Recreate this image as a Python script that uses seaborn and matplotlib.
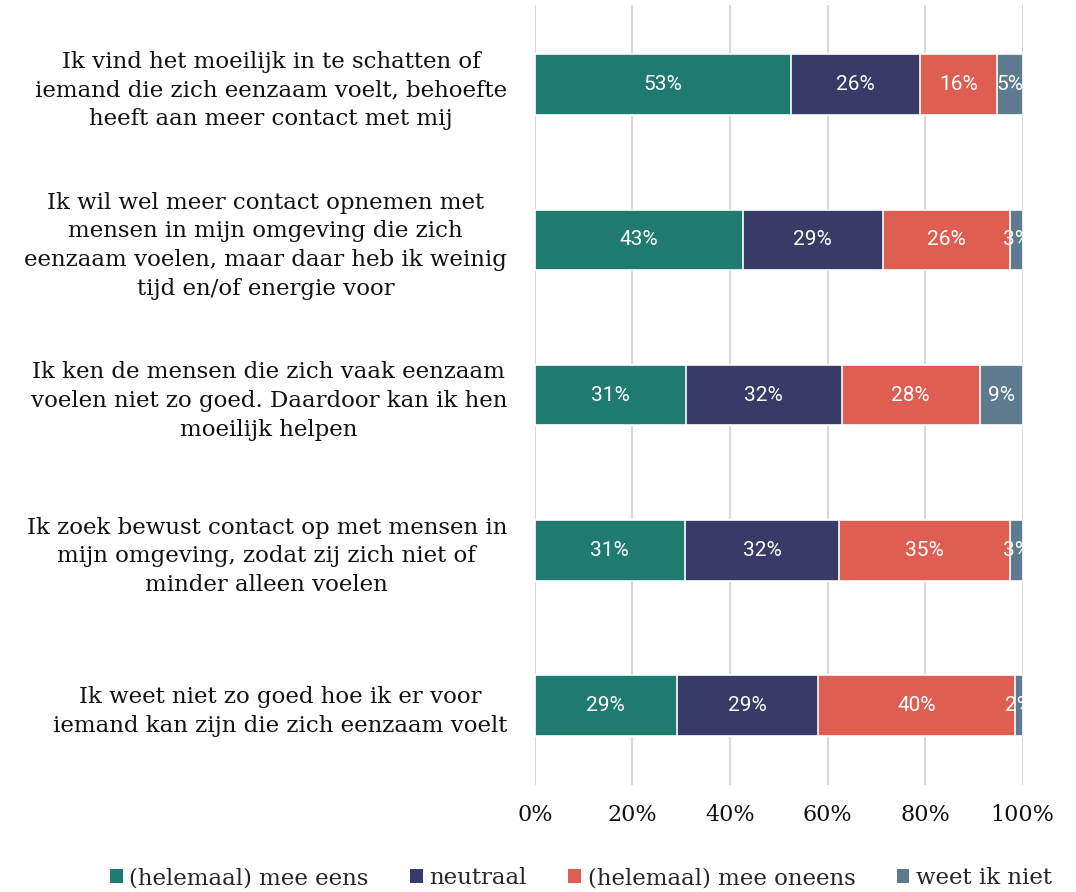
import matplotlib
matplotlib.use("Agg")
import matplotlib.pyplot as plt
import seaborn as sns
import pandas as pd
import numpy as np
from matplotlib.patches import Patch

statements = [
    "Ik vind het moeilijk in te schatten of\niemand die zich eenzaam voelt, behoefte\nheeft aan meer contact met mij",
    "Ik wil wel meer contact opnemen met\nmensen in mijn omgeving die zich\neenzaam voelen, maar daar heb ik weinig\ntijd en/of energie voor",
    "Ik ken de mensen die zich vaak eenzaam\nvoelen niet zo goed. Daardoor kan ik hen\nmoeilijk helpen",
    "Ik zoek bewust contact op met mensen in\nmijn omgeving, zodat zij zich niet of\nminder alleen voelen",
    "Ik weet niet zo goed hoe ik er voor\niemand kan zijn die zich eenzaam voelt",
]
answers = ["(helemaal) mee eens", "neutraal", "(helemaal) mee oneens", "weet ik niet"]
eens = [52.6, 42.6, 30.9, 30.7, 29.1]
neutraal = [26.4, 28.7, 32.0, 31.7, 29.0]
oneens = [15.7, 26.0, 28.3, 35.0, 40.3]
weet_niet = [5.3, 2.7, 8.8, 2.6, 1.6]
colors = ["#1f7b70", "#383a67", "#de5e52", "#5e7a8e"]

df = pd.DataFrame({"stelling": statements, answers[0]: eens, answers[1]: neutraal,
                   answers[2]: oneens, answers[3]: weet_niet})
cum = df[answers].cumsum(axis=1)

sns.set_theme(style="white")
plt.rcParams["font.family"] = ["DejaVu Serif"]

fig = plt.figure(figsize=(10.76, 8.92), dpi=100)
ax = fig.add_axes([0.497, 0.12, 0.4535, 0.874])

# stacked bars: draw cumulative totals from longest to shortest
for ans, col in reversed(list(zip(answers, colors))):
    sns.barplot(data=cum.assign(stelling=df["stelling"]), x=ans, y="stelling",
                orient="h", color=col, saturation=1, width=0.39, edgecolor="white",
                linewidth=1.2, ax=ax, zorder=3)

# percentage labels in the middle of each segment
for i in range(len(df)):
    for ans in answers:
        v = df.loc[i, ans]
        mid = cum.loc[i, ans] - v / 2
        ax.text(mid, i, f"{v:.0f}%", ha="center", va="center", color="white",
                fontsize=15, family="Roboto", clip_on=True, zorder=4)

ax.set_xlim(0, 100)
ax.set_ylim(4.51, -0.51)
ax.set_xticks(np.arange(0, 101, 20))
ax.set_xticklabels([f"{t}%" for t in range(0, 101, 20)])
ax.xaxis.grid(True, color="#d9d9d9", linewidth=1.5, zorder=0)
ax.set_xlabel("")
ax.set_ylabel("")
for s in ax.spines.values():
    s.set_visible(False)
ax.tick_params(axis="x", length=0, pad=14, labelsize=16, labelcolor="#111111")
ax.tick_params(axis="y", length=0, pad=20, labelsize=16.5, labelcolor="#111111")
for lbl in ax.get_yticklabels():
    lbl.set_multialignment("center")
    lbl.set_linespacing(1.4)

handles = [Patch(facecolor=c, edgecolor="none") for c in colors]
fig.legend(handles, answers, loc="lower center", bbox_to_anchor=(0.54, -0.02),
           ncol=4, frameon=False, fontsize=16.5, handlelength=0.55, handleheight=0.55,
           handletextpad=0.3, columnspacing=1.8)

plt.savefig("out.png", dpi=100)
